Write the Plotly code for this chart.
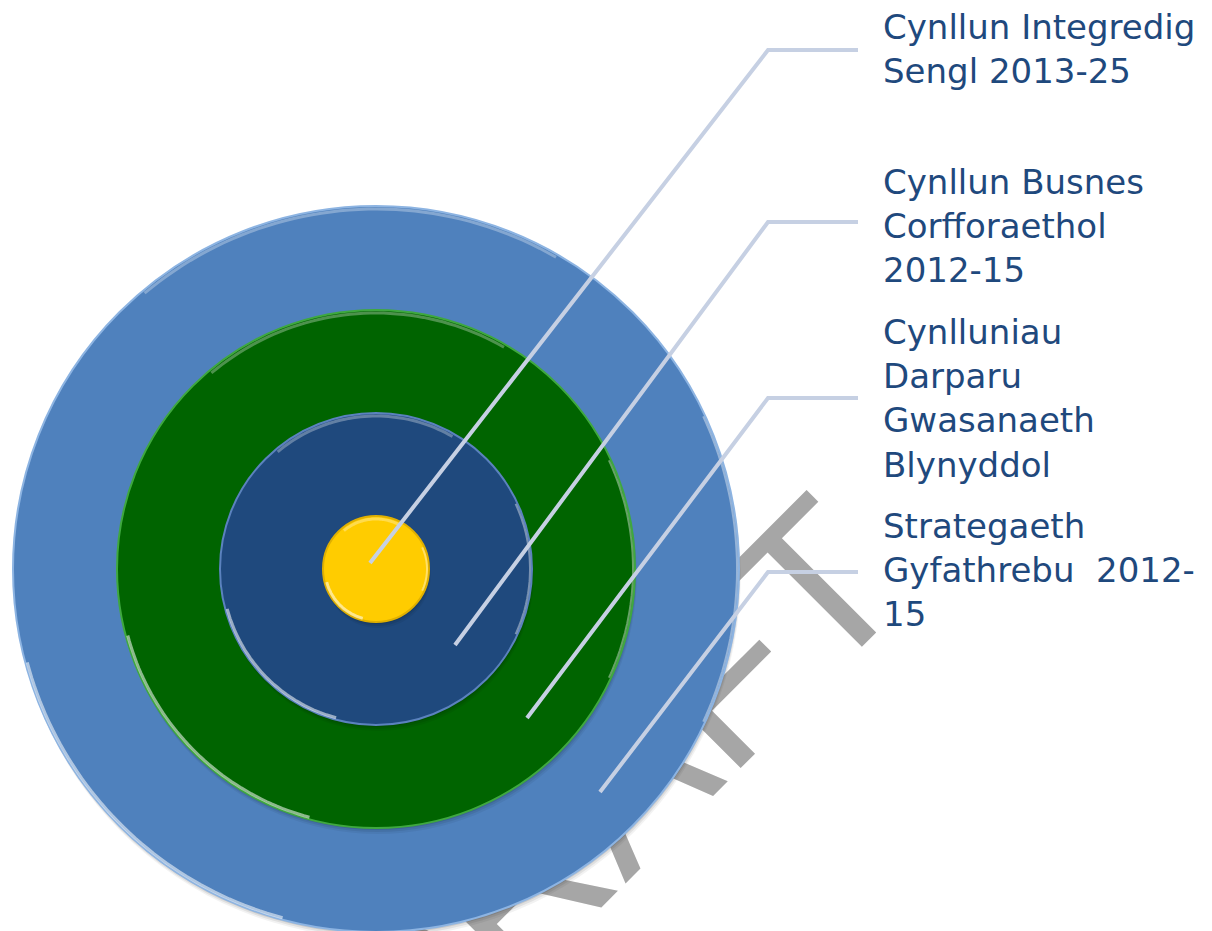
import numpy as np
import plotly.graph_objects as go

# ---------------- data ----------------
ring_names = ["Strategaeth Gyfathrebu", "Cynlluniau Darparu", "Cynllun Busnes", "Cynllun Integredig"]
ring_radius = [363, 259, 156, 53]
ring_colors = ["#4F81BD", "#006400", "#1F497D", "#FFCC00"]
ring_rims = ["#8DB4E2", "#3FA83F", "#5B82BE", "#E0B000"]
center = (376, 569)

label_lines = [
    ["Cynllun Integredig", "Sengl 2013-25"],
    ["Cynllun Busnes", "Corfforaethol", "2012-15"],
    ["Cynlluniau", "Darparu", "Gwasanaeth", "Blynyddol"],
    ["Strategaeth", "Gyfathrebu\u00a0 2012-", "15"],
]
label_first_baseline = [38, 193, 343, 537]
label_x = 881
label_size = 34

# leader lines: inner point, elbow
leader_inner_x = [370, 455, 527, 600]
leader_inner_y = [563, 645, 718, 792]
leader_elbow_y = [50, 222, 398, 572]
leader_elbow_x = 768
leader_end_x = 858

watermark_text = "DRAFT"
watermark_pos = (606, 796)

W, H = 1212, 931

# ---------------- figure ----------------
fig = go.Figure()

# watermark (beneath the circles)
fig.add_trace(go.Bar(
    x=[watermark_pos[0]], y=[700], base=[watermark_pos[1] - 350], width=[700],
    text=[watermark_text], textposition="inside", insidetextanchor="middle",
    textangle=-45, constraintext="none", cliponaxis=True,
    textfont=dict(family="Liberation Sans, Arial, sans-serif", size=218, color="#A6A6A6"),
    marker=dict(color="rgba(0,0,0,0)", line=dict(width=0)),
    hoverinfo="skip", showlegend=False,
))

shapes = []
cx, cy = center


def arc_path(r, a0, a1, n=48):
    t = np.radians(np.linspace(a0, a1, n))
    xs = cx + r * np.cos(t)
    ys = cy - r * np.sin(t)
    return "M " + " L ".join(f"{x:.1f},{y:.1f}" for x, y in zip(xs, ys))


for i, (r, col, rim) in enumerate(zip(ring_radius, ring_colors, ring_rims)):
    # soft drop shadow
    for k, a in [(6, 0.05), (4, 0.07), (2, 0.10)]:
        shapes.append(dict(type="circle", layer="above", xref="x", yref="y",
                           x0=cx - r + k * 0.3, x1=cx + r + k * 0.3,
                           y0=cy - r + k, y1=cy + r + k,
                           fillcolor=f"rgba(0,0,0,{a})", line=dict(width=0)))
    shapes.append(dict(type="circle", layer="above", xref="x", yref="y",
                       x0=cx - r, x1=cx + r, y0=cy - r, y1=cy + r,
                       fillcolor=col, line=dict(color=rim, width=2)))
    # bevel highlights
    shapes.append(dict(type="path", layer="above", xref="x", yref="y",
                       path=arc_path(r - 3, 60, 130),
                       line=dict(color="rgba(255,255,255,0.30)", width=3)))
    shapes.append(dict(type="path", layer="above", xref="x", yref="y",
                       path=arc_path(r - 2, 195, 255),
                       line=dict(color="rgba(255,255,255,0.55)", width=3)))
    shapes.append(dict(type="path", layer="above", xref="x", yref="y",
                       path=arc_path(r - 2, -25, 25),
                       line=dict(color="rgba(255,255,255,0.40)", width=2)))

# leader lines
for xi, yi, ye in zip(leader_inner_x, leader_inner_y, leader_elbow_y):
    shapes.append(dict(type="path", layer="above", xref="x", yref="y",
                       path=f"M {xi},{yi} L {leader_elbow_x},{ye} L {leader_end_x},{ye}",
                       line=dict(color="#C6D0E3", width=4)))

annotations = []
for lines, b in zip(label_lines, label_first_baseline):
    annotations.append(dict(
        x=label_x, y=b - 0.928 * label_size - 1, xref="x", yref="y",
        text="<br>".join(lines),
        showarrow=False, xanchor="left", yanchor="top", align="left",
        font=dict(family="'DejaVu Sans', sans-serif", size=label_size, color="#1F497D"),
    ))

fig.update_layout(
    width=W, height=H,
    margin=dict(l=0, r=0, t=0, b=0),
    paper_bgcolor="white", plot_bgcolor="white",
    xaxis=dict(range=[0, W], visible=False, fixedrange=True),
    yaxis=dict(range=[H, 0], visible=False, fixedrange=True),
    shapes=shapes, annotations=annotations,
    showlegend=False,
)

fig.write_html("out.html", config={"displayModeBar": False, "staticPlot": True},
               post_script="document.body.style.margin='0';document.body.style.overflow='hidden';")
